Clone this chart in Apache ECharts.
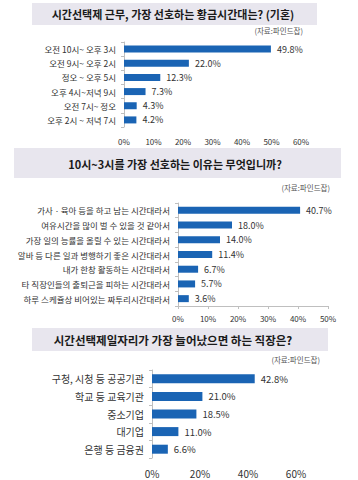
<!DOCTYPE html>
<html>
<head>
<meta charset="utf-8">
<script src="https://cdn.jsdelivr.net/npm/echarts@6/dist/echarts.min.js"></script>
<style>
  html, body { margin: 0; padding: 0; background: #fff; }
  #chart { width: 358px; height: 480px; }
</style>
</head>
<body>
<div id="chart"></div>
<script>
// 데이터
const titles = [
  '시간선택제 근무, 가장 선호하는 황금시간대는? (기혼)',
  '10시~3시를 가장 선호하는 이유는 무엇입니까?',
  '시간선택제일자리가 가장 늘어났으면 하는 직장은?'
];
const sourceText = '(자료:파인드잡)';

const timeCats = ['오전 10시~ 오후 3시', '오전 9시~ 오후 2시', '정오 ~ 오후 5시', '오후 4시~저녁 9시', '오전 7시~ 정오', '오후 2시 ~ 저녁 7시'];
const timeVals = [49.8, 22.0, 12.3, 7.3, 4.3, 4.2];

const reasonCats = [
  '가사ㆍ육아 등을 하고 남는 시간대라서',
  '여유시간을 많이 벌 수 있을 것 같아서',
  '가장 일의 능률을 올릴 수 있는 시간대라서',
  '알바 등 다른 일과 병행하기 좋은 시간대라서',
  '내가 한창 활동하는 시간대라서',
  '타 직장인들의 출퇴근을 피하는 시간대라서',
  '하루 스케쥴상 비어있는 짜투리시간대라서'
];
const reasonVals = [40.7, 18.0, 14.0, 11.4, 6.7, 5.7, 3.6];

const workCats = ['구청, 시청 등 공공기관', '학교 등 교육기관', '중소기업', '대기업', '은행 등 금융권'];
const workVals = [42.8, 21.0, 18.5, 11.0, 6.6];

const BAR = '#1a64b4';
const FONT = '"Noto Sans CJK KR", "Noto Sans", sans-serif';

const chart = echarts.init(document.getElementById('chart'), null, { renderer: 'svg' });

function yAx(idx, cats, size) {
  return {
    type: 'category', gridIndex: idx, data: cats, inverse: true,
    axisLine: { show: true, lineStyle: { color: '#bfbfbf' } },
    axisTick: { show: true, length: 3, lineStyle: { color: '#bfbfbf' } },
    axisLabel: { color: '#333', fontSize: size, fontFamily: FONT, margin: 8 }
  };
}
function xAx(idx, max, interval, line) {
  return {
    type: 'value', gridIndex: idx, min: 0, max: max, interval: interval,
    axisLine: { show: line, lineStyle: { color: '#bfbfbf' } },
    axisTick: { show: line, length: 3, lineStyle: { color: '#bfbfbf' } },
    splitLine: { show: false },
    axisLabel: { color: '#333', fontSize: idx === 2 ? 10 : 8, fontFamily: FONT, margin: line ? 8 : 10, formatter: '{value}%' }
  };
}
function ser(idx, vals, barW, size) {
  return {
    type: 'bar', xAxisIndex: idx, yAxisIndex: idx, data: vals, barWidth: barW,
    itemStyle: { color: BAR },
    label: { show: true, position: 'right', distance: 6, color: '#333', fontSize: size, fontFamily: FONT,
      formatter: p => p.value.toFixed(1) + '%' }
  };
}
function box(x, y, w, h) {
  return { type: 'rect', shape: { x: x, y: y, width: w, height: h }, style: { fill: '#e8e6ee' }, z: -1 };
}
function txt(x, y, s, size, bold, align) {
  return { type: 'text', x: x, y: y, style: { text: s, fill: bold ? '#1a1a1a' : '#555', font: (bold ? 'bold ' : '') + size + 'px ' + FONT, textAlign: align || 'center', textVerticalAlign: 'middle' } };
}

chart.setOption({
  animation: false,
  grid: [
    { left: 124, top: 42, width: 177, height: 85 },
    { left: 178, top: 203, width: 150, height: 103 },
    { left: 152, top: 370, width: 144, height: 88 }
  ],
  xAxis: [xAx(0, 60, 10, false), xAx(1, 50, 10, true), xAx(2, 60, 20, false)],
  yAxis: [yAx(0, timeCats, 8.5), yAx(1, reasonCats, 8.5), yAx(2, workCats, 10)],
  series: [ser(0, timeVals, 7, 9), ser(1, reasonVals, 7, 9), ser(2, workVals, 9, 9.5)],
  graphic: [
    box(32, 3, 285, 22),
    txt(173, 14, titles[0], 11, true),
    txt(303, 30, sourceText, 7.5, false, 'right'),
    box(14, 148, 327, 30),
    txt(175, 164, titles[1], 11, true),
    txt(330, 187, sourceText, 7.5, false, 'right'),
    box(32, 328, 296, 23),
    txt(173, 340, titles[2], 11.5, true),
    txt(320, 359, sourceText, 7.5, false, 'right')
  ]
});
</script>
</body>
</html>
